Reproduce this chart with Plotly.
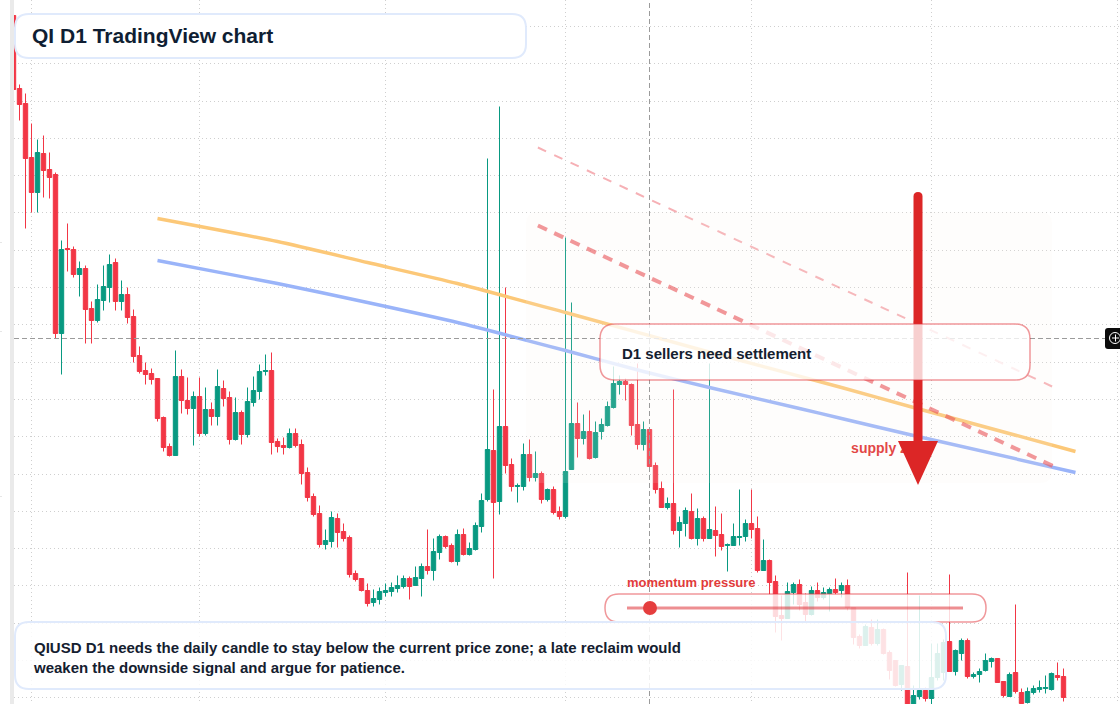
import pandas as pd
import plotly.graph_objects as go

WIDTH, HEIGHT = 1120, 704
UP, DOWN = "#089981", "#F23645"

# Daily candles, price in units of 1e-4 USD
first_day = "2025-01-29"
opens = [
    705,632,617,563,528,567,551,546,387,472,
    471,446,452,412,400,420,433,458,419,426,
    404,365,350,347,342,303,274,265,344,320,
    312,324,287,311,304,332,323,281,308,286,
    318,329,349,350,279,275,273,287,276,248,
    224,207,176,179,202,189,183,147,142,130,
    118,121,128,129,132,134,142,135,142,154,
    150,168,184,175,159,186,166,171,194,221,
    270,219,294,256,234,234,266,243,247,221,
    231,209,204,251,297,282,289,263,289,295,
    313,336,339,336,296,276,291,255,232,213,
    217,190,197,209,182,202,182,190,186,175,
    175,183,184,197,192,150,160,139,105,102,
    128,136,118,106,130,123,127,131,130,135,
    113,84,75,93,77,91,68,60,36,54,
    14,24,30,22,43,48,79,49,67,80,
    44,46,50,59,62,39,24,48,28,18,
    28,31,32,31,45,44,
]
highs = [
    705,636,627,597,581,585,568,548,480,497,
    474,459,455,419,436,455,466,462,440,433,
    411,374,358,352,342,304,277,370,351,343,
    329,343,333,318,351,340,329,323,310,333,
    344,356,366,368,282,283,292,292,281,253,
    227,215,191,209,207,197,185,150,142,137,
    131,133,137,138,145,145,144,154,157,191,
    182,186,185,177,191,192,178,198,227,562,
    331,614,433,262,237,277,281,269,249,232,
    234,214,483,418,318,306,310,299,302,319,
    354,345,342,337,357,299,292,258,239,223,
    331,204,213,227,212,204,357,214,207,177,
    197,231,201,231,204,181,161,145,125,138,
    138,141,127,134,138,133,133,142,138,141,
    113,86,96,101,101,92,70,60,55,148,
    35,125,33,77,77,81,146,71,82,82,
    48,52,67,63,62,39,48,116,32,33,
    35,40,45,48,58,52,
]
lows = [
    631,600,492,508,508,523,522,382,346,449,
    443,424,377,377,398,410,418,410,410,397,
    358,347,336,336,299,269,264,265,307,306,
    275,284,285,295,295,314,276,280,276,283,
    314,321,345,266,268,266,272,273,236,219,
    204,173,171,173,173,179,143,139,129,114,
    114,116,124,124,128,132,121,135,124,146,
    140,161,172,158,155,165,165,170,188,219,
    142,206,247,229,218,230,239,239,217,219,
    206,201,202,251,263,276,261,262,281,294,
    312,326,320,285,271,270,254,227,213,211,
    186,173,184,181,175,179,182,164,170,149,
    175,175,179,182,148,150,126,88,80,102,
    116,110,98,105,119,121,109,126,123,110,
    76,72,75,75,75,66,41,34,30,12,
    12,21,19,16,40,40,49,45,60,42,
    42,38,49,53,38,23,24,27,16,17,
    26,28,27,30,40,19,
]
closes = [
    631,616,562,528,568,550,543,387,471,471,
    446,452,411,400,421,434,456,419,426,403,
    364,349,346,341,302,273,265,344,320,312,
    324,287,311,304,334,322,281,308,286,319,
    330,349,350,278,274,273,287,275,247,223,
    206,176,180,203,188,182,146,141,130,117,
    122,129,130,133,135,142,134,143,154,150,
    169,184,174,159,186,166,172,195,220,271,
    218,294,255,234,235,266,243,247,221,231,
    208,204,249,297,282,289,262,288,296,314,
    337,339,336,295,276,291,254,231,213,217,
    190,198,210,182,202,182,191,185,174,176,
    184,184,197,191,150,160,138,104,102,129,
    136,116,106,130,123,128,131,128,135,113,
    83,75,94,77,91,67,50,35,55,14,
    25,30,22,43,67,78,49,70,80,44,
    46,49,60,62,38,25,46,29,17,29,
    32,33,33,47,43,23,
]

# Moving averages and trend lines: (days after first_day, price)
slow_ma_days = [24, 44, 59, 74, 92, 115, 138, 150, 177]
slow_ma = [502, 479, 458, 437, 408, 370, 333, 313, 269]
fast_ma_days = [24, 44, 59, 74, 92, 105, 116, 131, 138, 150, 177]
fast_ma = [460, 437, 418, 398, 370, 349, 333, 312, 302, 285, 248]
resistance_days = [87.4, 173.4]
resistance = [495, 254]
outer_resistance_days = [87.4, 173.1]
outer_resistance = [573, 334]

month_starts = ["2025-02-01", "2025-03-01", "2025-04-01", "2025-05-01",
                "2025-06-01", "2025-07-01", "2025-08-01"]
crosshair_price = 382
crosshair_date = "2025-05-15"
zone_label_day = 139.6
zone_label_price = 271
# Faint stubs of the neighbouring pane, page rows
stub_rows = [242, 331, 496]

dates = pd.date_range(first_day, periods=len(opens), freq="D")
start = pd.Timestamp(first_day)


def day_to_date(values):
    return [start + pd.Timedelta(days=v) for v in values]


def X(px):
    return px / WIDTH


def Y(py):
    return 1 - py / HEIGHT


def rounded(x0, y0, x1, y1, r):
    """SVG path of a rounded rectangle given in page pixels."""
    return (
        f"M {X(x0 + r)} {Y(y0)} L {X(x1 - r)} {Y(y0)} Q {X(x1)} {Y(y0)} {X(x1)} {Y(y0 + r)} "
        f"L {X(x1)} {Y(y1 - r)} Q {X(x1)} {Y(y1)} {X(x1 - r)} {Y(y1)} "
        f"L {X(x0 + r)} {Y(y1)} Q {X(x0)} {Y(y1)} {X(x0)} {Y(y1 - r)} "
        f"L {X(x0)} {Y(y0 + r)} Q {X(x0)} {Y(y0)} {X(x0 + r)} {Y(y0)} Z"
    )


def panel(x0, y0, x1, y1, r, fill, stroke, width):
    return dict(type="path", xref="paper", yref="paper", layer="above",
                path=rounded(x0, y0, x1, y1, r), fillcolor=fill,
                line=dict(color=stroke, width=width))


fig = go.Figure()

fig.add_trace(go.Candlestick(
    x=dates, open=opens, high=highs, low=lows, close=closes,
    whiskerwidth=0,
    increasing=dict(fillcolor=UP, line=dict(color=UP, width=1)),
    decreasing=dict(fillcolor=DOWN, line=dict(color=DOWN, width=1)),
    hoverinfo="skip",
))

fig.add_trace(go.Scatter(x=day_to_date(slow_ma_days), y=slow_ma, mode="lines",
                         line=dict(color="#FCC878", width=3.4, shape="spline", smoothing=0.6),
                         hoverinfo="skip"))
fig.add_trace(go.Scatter(x=day_to_date(fast_ma_days), y=fast_ma, mode="lines",
                         line=dict(color="#9AB4F9", width=3.4, shape="spline", smoothing=0.6),
                         hoverinfo="skip"))
fig.add_trace(go.Scatter(x=day_to_date(resistance_days), y=resistance, mode="lines",
                         line=dict(color="rgba(232,60,66,0.6)", width=4, dash="10px,8px"),
                         hoverinfo="skip"))
fig.add_trace(go.Scatter(x=day_to_date(outer_resistance_days), y=outer_resistance, mode="lines",
                         line=dict(color="rgba(236,80,90,0.45)", width=2, dash="9px,9px"),
                         hoverinfo="skip"))
fig.add_trace(go.Scatter(
    x=day_to_date([zone_label_day]), y=[zone_label_price], mode="text",
    text=["supply zone"], textposition="middle right",
    textfont=dict(family="Liberation Sans", size=14, color="#DF2F2F", weight="bold"),
    hoverinfo="skip",
))

shapes = [
    # Left rail
    dict(type="rect", xref="paper", yref="paper", layer="below",
         x0=X(10), x1=X(14), y0=0, y1=1, fillcolor="#EAEAEA", line=dict(width=0)),
    # Last close
    dict(type="line", xref="paper", yref="y", layer="below",
         x0=X(14), x1=1, y0=closes[-1], y1=closes[-1],
         line=dict(color=DOWN, width=1, dash="1px,3px")),
    # Supply zone tint
    panel(526, 212, 1052, 483, 12, "rgba(250,240,232,0.13)", "rgba(0,0,0,0)", 0),
    # Crosshair
    dict(type="line", xref="paper", yref="y", layer="above",
         x0=X(14), x1=X(1105), y0=crosshair_price, y1=crosshair_price,
         line=dict(color="#9B9B9B", width=1, dash="5px,3px")),
    dict(type="line", xref="x", yref="paper", layer="above",
         x0=crosshair_date, x1=crosshair_date, y0=0, y1=1,
         line=dict(color="#9B9B9B", width=1, dash="5px,3px")),
    # Down arrow
    panel(913.5, 192, 922.5, 446, 4.5, "#DC2626", "rgba(0,0,0,0)", 0),
    dict(type="path", xref="paper", yref="paper", layer="above",
         path=f"M {X(898)} {Y(441)} L {X(938)} {Y(441)} L {X(918)} {Y(485)} Z",
         fillcolor="#DC2626", line=dict(width=0)),
    # Text panels
    panel(15, 14, 526, 58, 14, "#FFFFFF", "#E0EAFC", 2),
    panel(600, 324, 1030, 380, 15, "rgba(255,255,255,0.78)", "rgba(225,50,55,0.5)", 1.5),
    panel(605, 594, 986, 622, 14, "rgba(255,255,255,0.82)", "rgba(225,50,55,0.5)", 1.5),
    panel(15, 622, 946, 689, 14, "rgba(255,255,255,0.86)", "#E0EAFC", 2),
    # Momentum gauge
    dict(type="rect", xref="paper", yref="paper", layer="above",
         x0=X(627), x1=X(963), y0=Y(609.5), y1=Y(606.5),
         fillcolor="rgba(222,50,55,0.55)", line=dict(width=0)),
    dict(type="circle", xref="paper", yref="paper", layer="above",
         x0=X(643), x1=X(657), y0=Y(615), y1=Y(601),
         fillcolor="#E53E3E", line=dict(width=0)),
    # Crosshair price tag
    panel(1105, 328, 1123, 349, 3, "#0B0B0B", "rgba(0,0,0,0)", 0),
    dict(type="circle", xref="paper", yref="paper", layer="above",
         x0=X(1109.5), x1=X(1120.5), y0=Y(343.5), y1=Y(332.5),
         fillcolor="rgba(0,0,0,0)", line=dict(color="#FFFFFF", width=1)),
    dict(type="line", xref="paper", yref="paper", layer="above",
         x0=X(1112), x1=X(1119), y0=Y(338), y1=Y(338), line=dict(color="#FFFFFF", width=1)),
    dict(type="line", xref="paper", yref="paper", layer="above",
         x0=X(1115.5), x1=X(1115.5), y0=Y(334.5), y1=Y(341.5), line=dict(color="#FFFFFF", width=1)),
]
shapes += [
    dict(type="rect", xref="paper", yref="paper", layer="below",
         x0=0, x1=X(2), y0=Y(row + 1), y1=Y(row), fillcolor="#E6E6E6", line=dict(width=0))
    for row in stub_rows
]


def label(text, px, py, size, color):
    return dict(text=text, xref="paper", yref="paper", x=X(px), y=Y(py),
                xanchor="left", yanchor="middle", showarrow=False,
                borderpad=0, align="left",
                font=dict(family="Liberation Sans", size=size, color=color, weight="bold"))


annotations = [
    label("QI D1 TradingView chart", 31, 35.6, 21, "#0F1E33"),
    label("D1 sellers need settlement", 621, 353, 15, "#14202F"),
    label("momentum pressure", 626, 582, 13, "#E23B3B"),
    label("QIUSD D1 needs the daily candle to stay below the current price zone; a late reclaim would",
          33, 647, 15, "#14202F"),
    label("weaken the downside signal and argue for patience.", 32, 667, 15, "#14202F"),
]

fig.update_layout(
    width=WIDTH, height=HEIGHT,
    margin=dict(l=0, r=0, t=0, b=0),
    paper_bgcolor="#FFFFFF", plot_bgcolor="#FFFFFF",
    showlegend=False, hovermode=False,
    boxmode="overlay", boxgap=0.27, boxgroupgap=0,
    shapes=shapes, annotations=annotations,
    xaxis=dict(
        domain=[X(14), 1], type="date",
        range=[start + pd.Timedelta(days=0.5 / 6), start + pd.Timedelta(days=(WIDTH - 13.5) / 6)],
        tickmode="array", tickvals=month_starts, showticklabels=False, ticks="",
        showgrid=True, gridcolor="#CFCFCF", griddash="1px,3px", gridwidth=1,
        zeroline=False, showline=False, rangeslider=dict(visible=False),
    ),
    yaxis=dict(
        domain=[0, 1], range=[16.5, 720.5],
        tick0=60, dtick=37.3, showticklabels=False, ticks="",
        showgrid=True, gridcolor="#CFCFCF", griddash="1px,3px", gridwidth=1,
        zeroline=False, showline=False,
    ),
)

fig.write_html("out.html", config=dict(displayModeBar=False))
